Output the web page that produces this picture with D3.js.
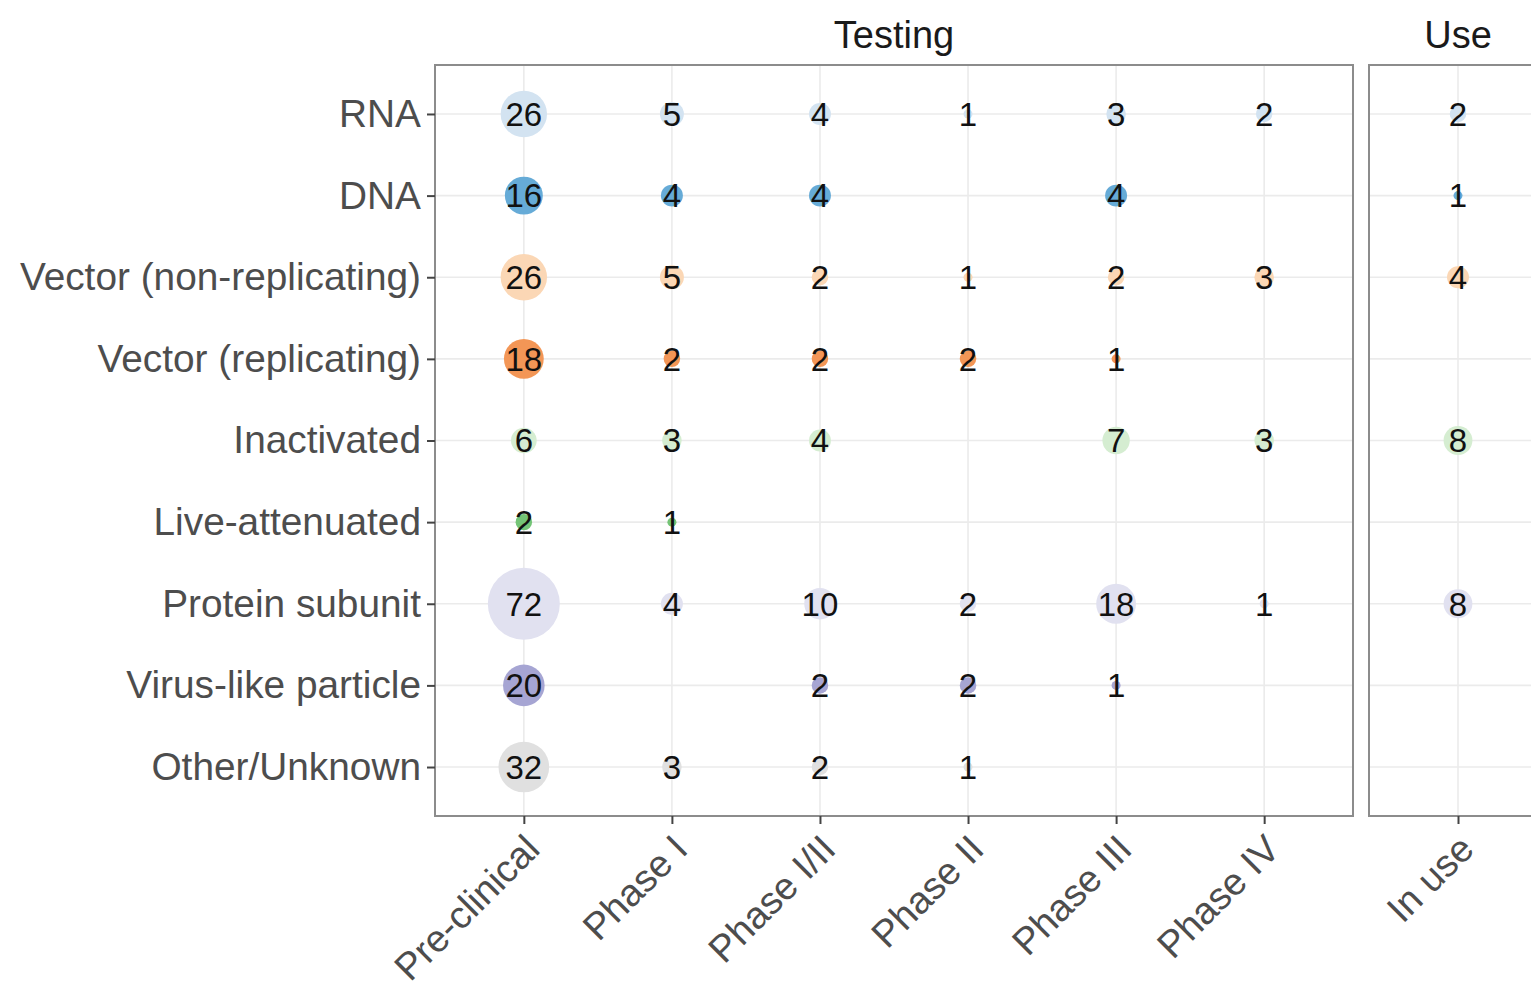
<!DOCTYPE html>
<html>
<head>
<meta charset="utf-8">
<script src="https://cdn.jsdelivr.net/npm/d3@7"></script>
<style>
  body { margin: 0; background: #fff; }
  svg { display: block; font-family: "Liberation Sans", Arial, Helvetica, sans-serif; }
</style>
</head>
<body>
<div id="chart"></div>
<script>
// vaccine platforms (rows) by development stage (columns)
var platforms = ["RNA", "DNA", "Vector (non-replicating)", "Vector (replicating)", "Inactivated",
  "Live-attenuated", "Protein subunit", "Virus-like particle", "Other/Unknown"];
var testingStages = ["Pre-clinical", "Phase I", "Phase I/II", "Phase II", "Phase III", "Phase IV"];
var useStages = ["In use"];

// counts per platform, in testingStages order; null = no candidates
var testingCounts = [
  [26, 5, 4, 1, 3, 2],
  [16, 4, 4, null, 4, null],
  [26, 5, 2, 1, 2, 3],
  [18, 2, 2, 2, 1, null],
  [6, 3, 4, null, 7, 3],
  [2, 1, null, null, null, null],
  [72, 4, 10, 2, 18, 1],
  [20, null, 2, 2, 1, null],
  [32, 3, 2, 1, null, null]
];
var useCounts = [2, 1, 4, null, 8, null, 8, null, null];

var platformColors = ["#d3e3f1", "#66abd7", "#fbd7b5", "#f39656", "#d5edd1",
  "#74c476", "#e1e1f0", "#a6a5d3", "#e0e0e0"];

var W = 1531, H = 986;
var margin = {top: 65, bottom: 816, left: 435};
var panels = [
  {title: "Testing", stages: testingStages, x0: 435, x1: 1353},
  {title: "Use", stages: useStages, x0: 1369, x1: 1547}
];

var svg = d3.select("#chart").append("svg")
  .attr("width", W).attr("height", H);

var y = d3.scalePoint().domain(platforms).range([margin.top, margin.bottom]).padding(0.6);

var allVals = [];
testingCounts.forEach(function(r) { r.forEach(function(v) { if (v != null) allVals.push(v); }); });
useCounts.forEach(function(v) { if (v != null) allVals.push(v); });
var ext = d3.extent(allVals);
// ggplot style area scale: sqrt of rescaled value
var norm = d3.scaleLinear().domain(ext).range([0, 1]);
var rad = d3.scaleLinear().domain([0, 1]).range([4.5, 36]);
function radius(v) { return rad(Math.sqrt(norm(v))); }

panels.forEach(function(p, pi) {
  var x = d3.scalePoint().domain(p.stages).range([p.x0, p.x1]).padding(0.6);

  var cells = [];
  platforms.forEach(function(pl, ri) {
    p.stages.forEach(function(st, ci) {
      var v = pi == 0 ? testingCounts[ri][ci] : useCounts[ri];
      if (v != null) cells.push({platform: pl, stage: st, value: v, color: platformColors[ri]});
    });
  });

  var g = svg.append("g");

  var clipId = "clip" + pi;
  svg.append("clipPath").attr("id", clipId).append("rect")
    .attr("x", p.x0).attr("y", margin.top)
    .attr("width", p.x1 - p.x0).attr("height", margin.bottom - margin.top);

  var inner = g.append("g").attr("clip-path", "url(#" + clipId + ")");

  inner.selectAll("line.gx").data(p.stages).enter().append("line")
    .attr("x1", function(d) { return x(d); }).attr("x2", function(d) { return x(d); })
    .attr("y1", margin.top).attr("y2", margin.bottom)
    .attr("stroke", "#ebebeb").attr("stroke-width", 1.6);
  inner.selectAll("line.gy").data(platforms).enter().append("line")
    .attr("x1", p.x0).attr("x2", p.x1)
    .attr("y1", function(d) { return y(d); }).attr("y2", function(d) { return y(d); })
    .attr("stroke", "#ebebeb").attr("stroke-width", 1.6);

  inner.selectAll("circle").data(cells).enter().append("circle")
    .attr("cx", function(d) { return x(d.stage); })
    .attr("cy", function(d) { return y(d.platform); })
    .attr("r", function(d) { return radius(d.value); })
    .attr("fill", function(d) { return d.color; });

  inner.selectAll("text").data(cells).enter().append("text")
    .attr("x", function(d) { return x(d.stage); })
    .attr("y", function(d) { return y(d.platform); })
    .attr("dy", "0.36em")
    .attr("text-anchor", "middle")
    .attr("font-size", 33)
    .attr("fill", "#111")
    .text(function(d) { return d.value; });

  g.append("rect")
    .attr("x", p.x0).attr("y", margin.top)
    .attr("width", p.x1 - p.x0).attr("height", margin.bottom - margin.top)
    .attr("fill", "none").attr("stroke", "#8c8c8c").attr("stroke-width", 2);

  // strip title
  svg.append("text")
    .attr("x", (p.x0 + p.x1) / 2).attr("y", 48)
    .attr("text-anchor", "middle")
    .attr("font-size", 38).attr("fill", "#1a1a1a")
    .text(p.title);

  // x axis
  var xa = svg.append("g")
    .attr("transform", "translate(0," + margin.bottom + ")")
    .call(d3.axisBottom(x).tickSize(8).tickSizeOuter(0));
  xa.select(".domain").remove();
  xa.selectAll(".tick line").attr("stroke", "#444").attr("stroke-width", 2);
  xa.selectAll(".tick text")
    .attr("x", 0).attr("y", 0).attr("dy", "0.72em")
    .attr("transform", "translate(-2,16) rotate(-45)")
    .style("text-anchor", "end")
    .attr("font-size", 38).attr("fill", "#4d4d4d");
});

// y axis
var ya = svg.append("g")
  .attr("transform", "translate(" + margin.left + ",0)")
  .call(d3.axisLeft(y).tickSize(8).tickPadding(6).tickSizeOuter(0));
ya.select(".domain").remove();
ya.selectAll(".tick line").attr("stroke", "#444").attr("stroke-width", 2);
ya.selectAll(".tick text").attr("font-size", 38.8).attr("fill", "#4d4d4d");
</script>
</body>
</html>
